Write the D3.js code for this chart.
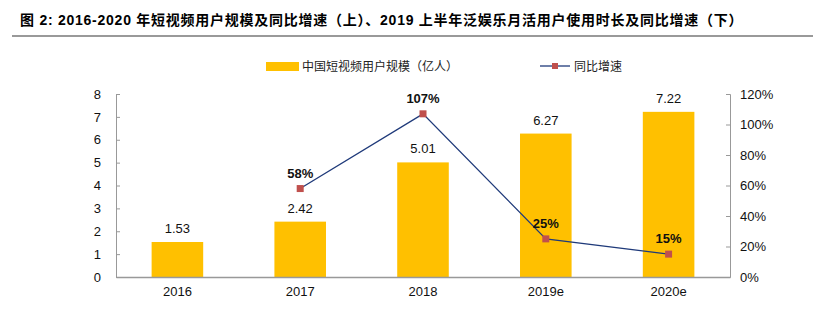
<!DOCTYPE html>
<html lang="zh">
<head>
<meta charset="utf-8">
<title>短视频用户规模</title>
<script src="https://d3js.org/d3.v7.min.js"></script>
<style>
  body { margin: 0; background: #fff; }
  text { font-family: "Liberation Sans", Arial, "Noto Sans CJK SC", sans-serif; }
  .cn { font-family: "Liberation Sans", "Noto Sans CJK SC", sans-serif; }
</style>
</head>
<body>
<script>
// 数据
var years = ["2016", "2017", "2018", "2019e", "2020e"];
var users = [1.53, 2.42, 5.01, 6.27, 7.22];
var growthYears = ["2017", "2018", "2019e", "2020e"];
var growth = [0.58, 1.07, 0.25, 0.15];
var leftTicks = [0, 1, 2, 3, 4, 5, 6, 7, 8];
var rightTicks = [0, 0.2, 0.4, 0.6, 0.8, 1.0, 1.2];

var W = 813, H = 323;
var plot = {left: 116, right: 730, top: 94, bottom: 277};

var svg = d3.select("body").append("svg")
    .attr("width", W)
    .attr("height", H);

// 标题与分隔线
svg.append("text")
    .attr("class", "cn")
    .attr("x", 20)
    .attr("y", 25)
    .attr("font-weight", "bold")
    .style("font-size", "14px")
    .style("letter-spacing", "0.75px")
    .text("图 2:  2016-2020 年短视频用户规模及同比增速（上）、2019 上半年泛娱乐月活用户使用时长及同比增速（下）");

svg.append("line")
    .attr("x1", 12).attr("x2", W)
    .attr("y1", 36).attr("y2", 36)
    .style("stroke", "#999")
    .style("stroke-width", 2);

var x = d3.scaleBand()
    .domain(years)
    .range([plot.left, plot.right])
    .paddingInner(0.58)
    .paddingOuter(0.29);

var y = d3.scaleLinear().domain([0, 8]).range([plot.bottom, plot.top]);
var y2 = d3.scaleLinear().domain([0, 1.2]).range([plot.bottom, plot.top]);

// 柱子
svg.append("g").selectAll("rect")
    .data(users)
    .enter().append("rect")
    .attr("x", function(d, i) { return x(years[i]); })
    .attr("y", function(d) { return y(d); })
    .attr("width", x.bandwidth())
    .attr("height", function(d) { return y(0) - y(d); })
    .style("fill", "#FFC000");

svg.append("g").selectAll("text")
    .data(users)
    .enter().append("text")
    .attr("x", function(d, i) { return x(years[i]) + x.bandwidth() / 2; })
    .attr("y", function(d) { return y(d) - 9; })
    .attr("text-anchor", "middle")
    .style("font-size", "13px")
    .style("fill", "#111")
    .text(function(d) { return d.toFixed(2); });

// 坐标轴
var axisColor = "#999";

var leftAxis = svg.append("g")
    .attr("transform", "translate(" + plot.left + ",0)")
    .call(d3.axisRight(y).tickValues(leftTicks).tickSize(4).tickFormat(d3.format("d")));
leftAxis.selectAll("text").attr("x", -15).attr("text-anchor", "end");

var rightAxis = svg.append("g")
    .attr("transform", "translate(" + plot.right + ",0)")
    .call(d3.axisLeft(y2).tickValues(rightTicks).tickSize(4).tickFormat(d3.format(".0%")));
rightAxis.selectAll("text").attr("x", 10).attr("text-anchor", "start");

[leftAxis, rightAxis].forEach(function(a) {
  a.select(".domain").style("stroke", axisColor);
  a.selectAll(".tick line").style("stroke", axisColor);
  a.selectAll(".tick text")
      .style("font-size", "13px")
      .style("fill", "#111")
      .style("font-family", "Liberation Sans, Arial, sans-serif");
});

var bottomAxis = svg.append("g")
    .attr("transform", "translate(0," + plot.bottom + ")")
    .call(d3.axisBottom(x).tickSize(0).tickPadding(10));
bottomAxis.select(".domain").style("stroke", axisColor).style("stroke-width", 1.5);
bottomAxis.selectAll(".tick text")
    .style("font-size", "13px")
    .style("fill", "#111")
    .style("font-family", "Liberation Sans, Arial, sans-serif");

// 同比增速折线
var cx = function(d, i) { return x(growthYears[i]) + x.bandwidth() / 2; };

var line = d3.line()
    .x(cx)
    .y(function(d) { return y2(d); });

svg.append("path")
    .datum(growth)
    .attr("d", line)
    .style("fill", "none")
    .style("stroke", "#1F3A7A")
    .style("stroke-width", 1.3);

svg.append("g").selectAll("rect")
    .data(growth)
    .enter().append("rect")
    .attr("x", function(d, i) { return cx(d, i) - 3.5; })
    .attr("y", function(d) { return y2(d) - 3.5; })
    .attr("width", 7)
    .attr("height", 7)
    .style("fill", "#C0504D");

svg.append("g").selectAll("text")
    .data(growth)
    .enter().append("text")
    .attr("x", cx)
    .attr("y", function(d) { return y2(d) - 11; })
    .attr("text-anchor", "middle")
    .attr("font-weight", "bold")
    .style("font-size", "13px")
    .style("fill", "#111")
    .text(function(d) { return Math.round(d * 100) + "%"; });

// 图例
var legend = svg.append("g");
legend.append("rect")
    .attr("x", 266).attr("y", 62)
    .attr("width", 33).attr("height", 9)
    .style("fill", "#FFC000");
legend.append("text")
    .attr("class", "cn")
    .attr("x", 302).attr("y", 71)
    .style("font-size", "12px")
    .style("fill", "#222")
    .text("中国短视频用户规模（亿人）");
legend.append("line")
    .attr("x1", 540).attr("x2", 570)
    .attr("y1", 66).attr("y2", 66)
    .style("stroke", "#1F3A7A")
    .style("stroke-width", 1.3);
legend.append("rect")
    .attr("x", 552).attr("y", 63)
    .attr("width", 6).attr("height", 6)
    .style("fill", "#C0504D");
legend.append("text")
    .attr("class", "cn")
    .attr("x", 574).attr("y", 71)
    .style("font-size", "12px")
    .style("fill", "#222")
    .text("同比增速");
</script>
</body>
</html>
